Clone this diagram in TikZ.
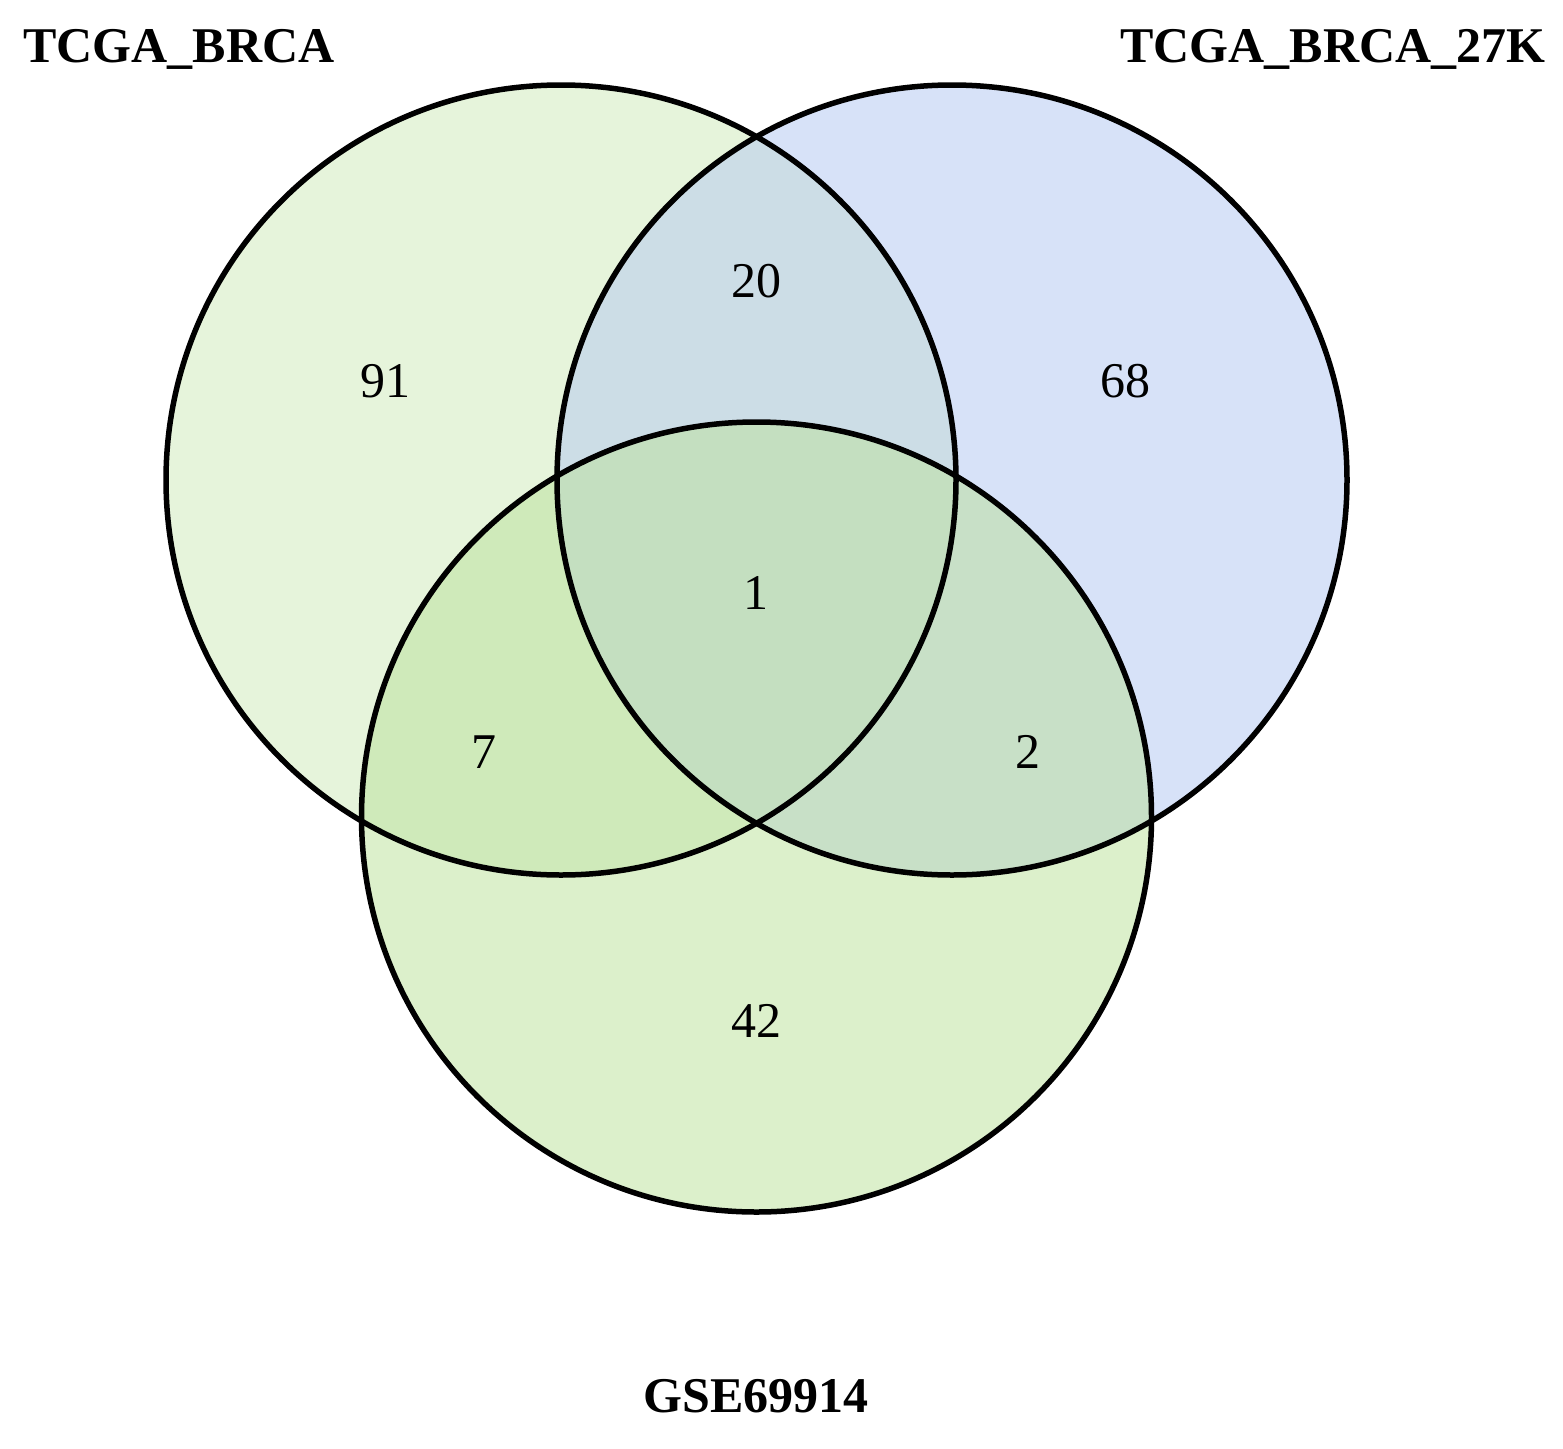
\documentclass[tikz,border=0pt]{standalone}
\usepackage{fontspec}
\setmainfont{Liberation Serif}
\definecolor{cA}{HTML}{E6F4DB}
\definecolor{cB}{HTML}{D7E2F8}
\definecolor{cC}{HTML}{DCF0CB}
\definecolor{cAB}{HTML}{CCDDE6}
\definecolor{cAC}{HTML}{CFEABA}
\definecolor{cBC}{HTML}{C8E0C7}
\definecolor{cABC}{HTML}{C4DFC0}
\tikzset{
  num/.style={anchor=base, inner sep=0pt, font=\fontsize{50}{60}\selectfont},
  setlabel/.style={anchor=base, inner sep=0pt, font=\fontsize{50}{60}\selectfont\bfseries},
  ring/.style={draw=black, line width=5.5pt}
}
\begin{document}
\begin{tikzpicture}[x=1pt,y=-1pt]
\useasboundingbox (0,0) rectangle (1563,1448);
\fill[white] (0,0) rectangle (1563,1448);
\def\R{395}
\coordinate (A) at (561,480);
\coordinate (B) at (952,480);
\coordinate (C) at (756.5,817);
\fill[cA] (A) circle (\R);
\fill[cB] (B) circle (\R);
\fill[cC] (C) circle (\R);
\begin{scope}
  \clip (A) circle (\R);
  \fill[cAB] (B) circle (\R);
  \fill[cAC] (C) circle (\R);
\end{scope}
\begin{scope}
  \clip (B) circle (\R);
  \fill[cBC] (C) circle (\R);
\end{scope}
\begin{scope}
  \clip (A) circle (\R);
  \clip (B) circle (\R);
  \fill[cABC] (C) circle (\R);
\end{scope}
\draw[ring] (A) circle (\R);
\draw[ring] (B) circle (\R);
\draw[ring] (C) circle (\R);
\node[num] (n91) at (385,397) {91};
\node[num] (n20) at (756,297) {20};
\node[num] (n68) at (1125,397) {68};
\node[num] (n1) at (756,609) {1};
\node[num] (n7) at (484,768) {7};
\node[num] (n2) at (1028,768) {2};
\node[num] (n42) at (756,1037) {42};
\node[setlabel] (lA) at (179,62) {TCGA\_BRCA};
\node[setlabel] (lB) at (1333,62) {TCGA\_BRCA\_27K};
\node[setlabel] (lC) at (756,1412) {GSE69914};
\end{tikzpicture}
\end{document}
